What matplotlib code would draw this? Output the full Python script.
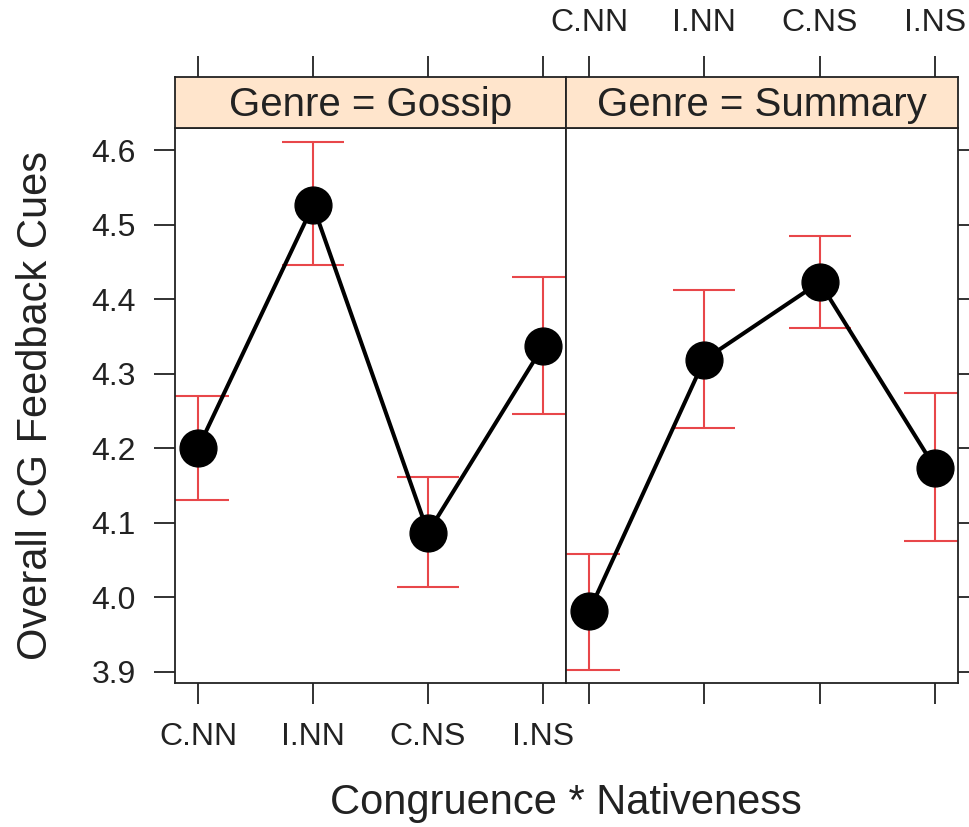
import matplotlib
matplotlib.use("Agg")
import matplotlib.pyplot as plt

plt.rcParams["font.family"] = ["Liberation Sans", "DejaVu Sans"]

CATEGORIES = ["C.NN", "I.NN", "C.NS", "I.NS"]
GENRES = ["Gossip", "Summary"]
MEANS = {
    "Gossip": [4.200, 4.526, 4.087, 4.337],
    "Summary": [3.981, 4.319, 4.423, 4.174],
}
LOWER = {
    "Gossip": [4.131, 4.446, 4.014, 4.246],
    "Summary": [3.903, 4.227, 4.362, 4.076],
}
UPPER = {
    "Gossip": [4.270, 4.611, 4.162, 4.430],
    "Summary": [4.058, 4.412, 4.485, 4.274],
}
Y_TICKS = [3.9, 4.0, 4.1, 4.2, 4.3, 4.4, 4.5, 4.6]

STRIP_BG = "#FFE5CC"
ERR_RED = "#E8474A"
INK = "#222222"
TICK_FS = 23
TICK_LEN = 15
TICK_PAD = 13

W, H = 969, 827
fig = plt.figure(figsize=(W / 100, H / 100), dpi=100)


def fx(px):
    return px / W


def fy(py):
    return 1 - py / H


panel_x = [(175, 566), (566, 958)]
panel_top, panel_bot, strip_top = 128, 683, 77
xs = list(range(1, len(CATEGORIES) + 1))

for i, genre in enumerate(GENRES):
    x0, x1 = panel_x[i]
    ax = fig.add_axes([fx(x0), fy(panel_bot), fx(x1 - x0), fy(panel_top) - fy(panel_bot)])
    st = fig.add_axes([fx(x0), fy(panel_top), fx(x1 - x0), fy(strip_top) - fy(panel_top)])

    # error bars with caps, then the connecting line and points
    ax.vlines(xs, LOWER[genre], UPPER[genre], color=ERR_RED, lw=1.5, zorder=1)
    for y in (LOWER[genre], UPPER[genre]):
        ax.hlines(y, [x - 0.27 for x in xs], [x + 0.27 for x in xs], color=ERR_RED, lw=1.5, zorder=1)
    ax.plot(xs, MEANS[genre], color="black", lw=2.9, zorder=2)
    ax.plot(xs, MEANS[genre], "o", color="black", ms=26.5, zorder=3)

    ax.set_xlim(0.8, 4.2)
    ax.set_ylim(3.885, 4.630)
    ax.set_xticks(xs)
    ax.set_yticks(Y_TICKS)
    ax.tick_params(direction="out", length=TICK_LEN, width=1.3, labelsize=TICK_FS,
                   pad=TICK_PAD, colors=INK)
    for sp in ax.spines.values():
        sp.set_linewidth(1.3)
        sp.set_color(INK)

    if i == 0:
        ax.set_xticklabels(CATEGORIES)
        ax.set_yticklabels([f"{v:.1f}" for v in Y_TICKS])
        ax.tick_params(right=False)
    else:
        ax.set_xticklabels([])
        ax.yaxis.tick_right()
        ax.set_yticklabels([])

    st.set_facecolor(STRIP_BG)
    st.set_xlim(0.8, 4.2)
    st.set_ylim(0, 1)
    st.set_yticks([])
    st.set_xticks(xs)
    st.xaxis.tick_top()
    st.tick_params(direction="out", length=TICK_LEN, width=1.3, labelsize=TICK_FS,
                   pad=TICK_PAD, colors=INK)
    if i == 1:
        st.set_xticklabels(CATEGORIES)
    else:
        st.set_xticklabels([])
    for sp in st.spines.values():
        sp.set_linewidth(1.3)
        sp.set_color(INK)
    st.text(2.5, 0.45, f"Genre = {genre}", ha="center", va="center", fontsize=29, color=INK)

fig.text(fx(36), fy(406), "Overall CG Feedback Cues", rotation=90, ha="center", va="center",
         fontsize=30, color=INK)
fig.text(fx(566), fy(803), "Congruence * Nativeness", ha="center", va="center",
         fontsize=30, color=INK)

fig.savefig("out.png", dpi=100)
